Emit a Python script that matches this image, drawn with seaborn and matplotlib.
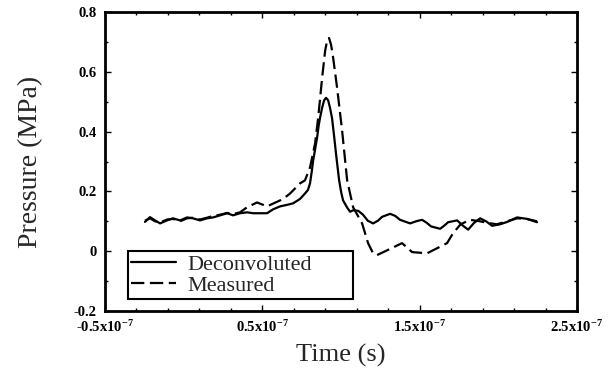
import numpy as np
import pandas as pd
import matplotlib
matplotlib.use("Agg")
import matplotlib.pyplot as plt
import seaborn as sns
from matplotlib.ticker import FixedLocator, MultipleLocator

# time in units of 1e-7 s, pressure in MPa
t_deconv = [-0.246, -0.214, -0.182, -0.150, -0.106, -0.068, -0.023, 0.021, 0.059,
            0.104, 0.148, 0.187, 0.231, 0.276, 0.314, 0.358, 0.403, 0.441, 0.485,
            0.530, 0.568, 0.613, 0.657, 0.695, 0.740, 0.771, 0.790, 0.803, 0.815,
            0.822, 0.835, 0.848, 0.858, 0.867, 0.880, 0.893, 0.905, 0.918, 0.930,
            0.943, 0.955, 0.968, 0.988, 1.000, 1.013, 1.040, 1.058, 1.077, 1.110,
            1.140, 1.170, 1.204, 1.235, 1.261, 1.312, 1.345, 1.375, 1.439, 1.477,
            1.515, 1.545, 1.572, 1.630, 1.655, 1.681, 1.738, 1.776, 1.808, 1.846,
            1.884, 1.922, 1.960, 2.011, 2.056, 2.119, 2.183, 2.246]
p_deconv = [0.098, 0.114, 0.103, 0.093, 0.103, 0.110, 0.103, 0.113, 0.110,
            0.103, 0.110, 0.113, 0.120, 0.127, 0.120, 0.127, 0.130, 0.127, 0.127,
            0.127, 0.140, 0.150, 0.155, 0.160, 0.175, 0.193, 0.205, 0.227, 0.270,
            0.300, 0.340, 0.380, 0.420, 0.447, 0.480, 0.505, 0.513, 0.505, 0.480,
            0.445, 0.390, 0.327, 0.237, 0.200, 0.170, 0.145, 0.132, 0.137, 0.135,
            0.122, 0.102, 0.093, 0.102, 0.115, 0.125, 0.118, 0.105, 0.093, 0.100,
            0.105, 0.095, 0.083, 0.075, 0.085, 0.097, 0.103, 0.085, 0.072, 0.095,
            0.110, 0.100, 0.085, 0.090, 0.098, 0.113, 0.108, 0.097]

t_meas = [-0.246, -0.214, -0.182, -0.150, -0.106, -0.068, -0.023, 0.021, 0.059,
          0.104, 0.148, 0.187, 0.231, 0.276, 0.314, 0.358, 0.403, 0.466, 0.530,
          0.613, 0.657, 0.676, 0.740, 0.771, 0.803, 0.835, 0.855, 0.880, 0.899,
          0.912, 0.924, 0.937, 0.950, 0.975, 1.007, 1.039, 1.077, 1.134, 1.172,
          1.204, 1.229, 1.293, 1.388, 1.452, 1.547, 1.611, 1.674, 1.712, 1.760,
          1.820, 1.884, 1.930, 1.990, 2.056, 2.120, 2.180, 2.246]
p_meas = [0.102, 0.110, 0.100, 0.096, 0.106, 0.108, 0.100, 0.110, 0.112,
          0.106, 0.112, 0.118, 0.122, 0.128, 0.124, 0.130, 0.147, 0.163, 0.150,
          0.170, 0.185, 0.193, 0.227, 0.237, 0.280, 0.360, 0.447, 0.580, 0.670,
          0.705, 0.713, 0.690, 0.647, 0.547, 0.403, 0.237, 0.147, 0.093, 0.027,
          -0.007, -0.013, 0.003, 0.027, -0.003, -0.007, 0.010, 0.027, 0.060, 0.090,
          0.105, 0.100, 0.095, 0.090, 0.100, 0.110, 0.108, 0.100]

x_ticks = [-0.5, 0.5, 1.5, 2.5]
x_labels = ["-0.5x10$^{-7}$", "0.5x10$^{-7}$", "1.5x10$^{-7}$", "2.5x10$^{-7}$"]
y_ticks = [-0.2, 0, 0.2, 0.4, 0.6, 0.8]
y_labels = ["-0.2", "0", "0.2", "0.4", "0.6", "0.8"]

deconv = pd.DataFrame({"t": np.array(t_deconv) * 1e-7, "p": p_deconv})
meas = pd.DataFrame({"t": np.array(t_meas) * 1e-7, "p": p_meas})

sns.set_style("ticks")
plt.rcParams["font.family"] = ["Liberation Serif", "DejaVu Serif"]
plt.rcParams["mathtext.fontset"] = "custom"
plt.rcParams["mathtext.rm"] = "Liberation Serif:bold"
plt.rcParams["mathtext.default"] = "rm"

fig = plt.figure(figsize=(6.13, 3.79), dpi=100)
ax = fig.add_axes([0.1713, 0.1794, 0.77, 0.7889])

sns.lineplot(data=deconv, x="t", y="p", ax=ax, color="black", lw=1.6,
             sort=False, label="Deconvoluted")
sns.lineplot(data=meas, x="t", y="p", ax=ax, color="black", lw=1.6,
             sort=False, label="Measured", linestyle=(0, (6, 2.5)))

ax.set_xlim(-0.5e-7, 2.5e-7)
ax.set_ylim(-0.2, 0.8)
ax.set_xticks([v * 1e-7 for v in x_ticks])
ax.set_xticklabels(x_labels, fontweight="bold", fontsize=10.5)
ax.xaxis.set_minor_locator(FixedLocator(np.arange(-0.5, 2.51, 0.2) * 1e-7))
ax.set_yticks(y_ticks)
ax.set_yticklabels(y_labels, fontweight="bold", fontsize=10.5)
ax.yaxis.set_minor_locator(MultipleLocator(0.1))

ax.tick_params(which="both", direction="in", top=True, right=True,
               width=1.0, colors="black")
ax.tick_params(which="major", length=4, pad=6)
ax.tick_params(which="minor", length=2.5)
for s in ax.spines.values():
    s.set_linewidth(2)
    s.set_color("black")

ax.set_xlabel("Time (s)", fontsize=19, labelpad=6)
ax.set_ylabel("Pressure (MPa)", fontsize=20, labelpad=22)

leg = ax.legend(loc="lower left", bbox_to_anchor=(0.049, 0.04, 0.476, 0.167),
                mode="expand", borderaxespad=0, fontsize=16, handlelength=2.0,
                labelspacing=0.0, borderpad=0.15, handletextpad=0.5,
                fancybox=False, framealpha=1, edgecolor="black")
leg.get_frame().set_linewidth(1.5)

fig.savefig("out.png", dpi=100)
